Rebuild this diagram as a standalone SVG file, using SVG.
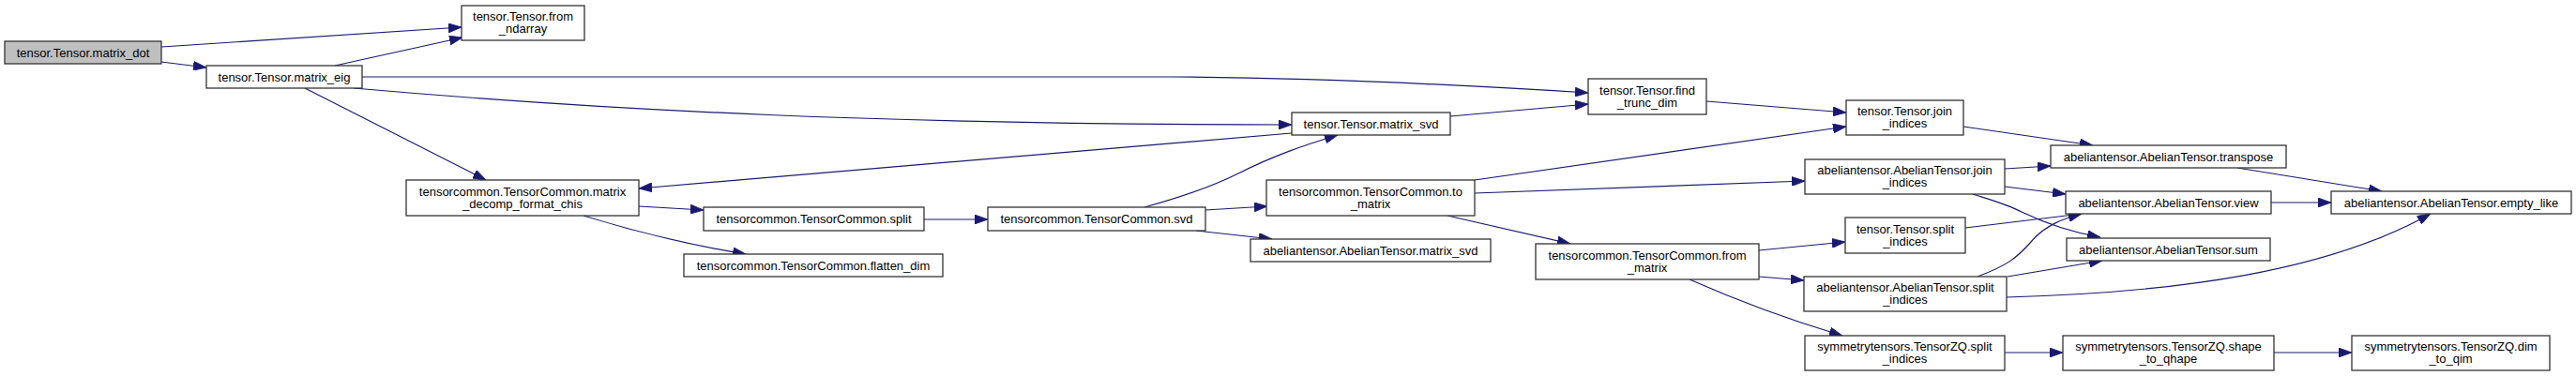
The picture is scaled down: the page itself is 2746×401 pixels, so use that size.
<svg xmlns="http://www.w3.org/2000/svg" width="2746" height="401" viewBox="0 0 2746 401">
<style>
.n rect{fill:#ffffff;stroke:#333333;stroke-width:1.3}
.n.root rect{fill:#bfbfbf}
.n text{font-family:"Liberation Sans",Arial,Helvetica,sans-serif;font-size:13px;fill:#000;text-anchor:middle}
#edges path{fill:none;stroke:#191970;stroke-width:1.2;marker-end:url(#ah)}
</style>
<defs>
<marker id="ah" markerUnits="userSpaceOnUse" viewBox="0 0 14 10" markerWidth="14" markerHeight="10" refX="14" refY="5" orient="auto">
<path d="M0,0 L14,5 L0,10 z" fill="#191970" stroke="#191970" stroke-width="0.8"/>
</marker>
</defs>
<rect width="2746" height="401" fill="#ffffff"/>
<g id="edges">
<path d="M172,50 L492,29"/>
<path d="M172,66 L220,72"/>
<path d="M357,70 L493,40"/>
<path d="M386,82 L1250,82 C1400,83 1550,90 1693,99"/>
<path d="M377,94 C650,118 950,133 1377,133"/>
<path d="M325,94 L518,192"/>
<path d="M1377,142 L681,201"/>
<path d="M1220,221 C1260,210 1290,200 1320,185 C1360,165 1390,155 1426,144"/>
<path d="M1546,124 L1693,111"/>
<path d="M681,220 L750,224"/>
<path d="M622,230 C680,248 740,262 795,271"/>
<path d="M985,234 L1053,234"/>
<path d="M1285,224 L1351,220"/>
<path d="M1275,246 L1356,255"/>
<path d="M1819,108 L1968,120"/>
<path d="M1572,192 L1968,135"/>
<path d="M1572,206 L1924,193"/>
<path d="M1543,230 L1674,260"/>
<path d="M2093,135 L2231,155"/>
<path d="M2137,180 L2186,177"/>
<path d="M2137,199 L2202,207"/>
<path d="M2103,207 C2125,214 2140,218 2155,226 C2180,238 2210,248 2239,253"/>
<path d="M2095,243 L2219,228"/>
<path d="M1875,267 L1967,258"/>
<path d="M1875,295 L1923,299"/>
<path d="M1801,298 Q1880,333 1964,358"/>
<path d="M2108,295 C2140,283 2150,275 2165,258 C2180,240 2200,233 2219,228"/>
<path d="M2140,295 L2241,278"/>
<path d="M2139,317 C2320,312 2480,290 2591,228"/>
<path d="M2137,376 L2199,376"/>
<path d="M2424,376 L2507,376"/>
<path d="M2385,179 L2539,204"/>
<path d="M2421,216 L2485,216"/>
</g>
<g id="n1" class="n root"><rect x="5" y="44" width="167" height="24"/><text x="88.5" y="60.5">tensor.Tensor.matrix_dot</text></g>
<g id="n2" class="n"><rect x="492" y="6" width="131" height="37"/><text x="557.5" y="22">tensor.Tensor.from</text><text x="557.5" y="35">_ndarray</text></g>
<g id="n3" class="n"><rect x="220" y="70" width="166" height="24"/><text x="303" y="86.5">tensor.Tensor.matrix_eig</text></g>
<g id="n4" class="n"><rect x="433" y="192" width="248" height="38"/><text x="557" y="208.5">tensorcommon.TensorCommon.matrix</text><text x="557" y="221.5">_decomp_format_chis</text></g>
<g id="n5" class="n"><rect x="750" y="221" width="235" height="25"/><text x="867.5" y="238">tensorcommon.TensorCommon.split</text></g>
<g id="n6" class="n"><rect x="729" y="271" width="276" height="24"/><text x="867" y="287.5">tensorcommon.TensorCommon.flatten_dim</text></g>
<g id="n7" class="n"><rect x="1053" y="221" width="232" height="25"/><text x="1169" y="238">tensorcommon.TensorCommon.svd</text></g>
<g id="n8" class="n"><rect x="1377" y="120" width="169" height="24"/><text x="1461.5" y="136.5">tensor.Tensor.matrix_svd</text></g>
<g id="n9" class="n"><rect x="1693" y="84" width="126" height="38"/><text x="1756" y="100.5">tensor.Tensor.find</text><text x="1756" y="113.5">_trunc_dim</text></g>
<g id="n10" class="n"><rect x="1350" y="192" width="222" height="38"/><text x="1461" y="208.5">tensorcommon.TensorCommon.to</text><text x="1461" y="221.5">_matrix</text></g>
<g id="n11" class="n"><rect x="1333" y="255" width="256" height="24"/><text x="1461" y="271.5">abeliantensor.AbelianTensor.matrix_svd</text></g>
<g id="n12" class="n"><rect x="1637" y="260" width="238" height="38"/><text x="1756" y="276.5">tensorcommon.TensorCommon.from</text><text x="1756" y="289.5">_matrix</text></g>
<g id="n13" class="n"><rect x="1968" y="107" width="125" height="37"/><text x="2030.5" y="123">tensor.Tensor.join</text><text x="2030.5" y="136">_indices</text></g>
<g id="n14" class="n"><rect x="1924" y="170" width="213" height="37"/><text x="2030.5" y="186">abeliantensor.AbelianTensor.join</text><text x="2030.5" y="199">_indices</text></g>
<g id="n15" class="n"><rect x="1967" y="232" width="128" height="38"/><text x="2031" y="248.5">tensor.Tensor.split</text><text x="2031" y="261.5">_indices</text></g>
<g id="n16" class="n"><rect x="1923" y="295" width="216" height="37"/><text x="2031" y="311">abeliantensor.AbelianTensor.split</text><text x="2031" y="324">_indices</text></g>
<g id="n17" class="n"><rect x="1924" y="358" width="213" height="37"/><text x="2030.5" y="374">symmetrytensors.TensorZQ.split</text><text x="2030.5" y="387">_indices</text></g>
<g id="n18" class="n"><rect x="2186" y="155" width="251" height="24"/><text x="2311.5" y="171.5">abeliantensor.AbelianTensor.transpose</text></g>
<g id="n19" class="n"><rect x="2202" y="204" width="219" height="24"/><text x="2311.5" y="220.5">abeliantensor.AbelianTensor.view</text></g>
<g id="n20" class="n"><rect x="2203" y="254" width="217" height="24"/><text x="2311.5" y="270.5">abeliantensor.AbelianTensor.sum</text></g>
<g id="n21" class="n"><rect x="2199" y="358" width="225" height="37"/><text x="2311.5" y="374">symmetrytensors.TensorZQ.shape</text><text x="2311.5" y="387">_to_qhape</text></g>
<g id="n22" class="n"><rect x="2485" y="204" width="256" height="24"/><text x="2613" y="220.5">abeliantensor.AbelianTensor.empty_like</text></g>
<g id="n23" class="n"><rect x="2507" y="358" width="211" height="37"/><text x="2612.5" y="374">symmetrytensors.TensorZQ.dim</text><text x="2612.5" y="387">_to_qim</text></g>
</svg>
